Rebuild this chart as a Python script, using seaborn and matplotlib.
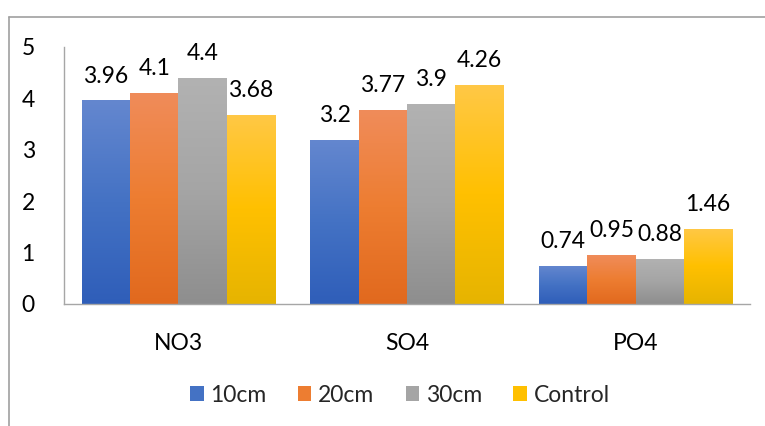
import numpy as np
import pandas as pd
import matplotlib
matplotlib.use("Agg")
import matplotlib.pyplot as plt
from matplotlib.colors import LinearSegmentedColormap
from matplotlib.lines import Line2D
from matplotlib.patches import Patch
import seaborn as sns

categories = ["NO3", "SO4", "PO4"]
series = ["10cm", "20cm", "30cm", "Control"]
v_10cm = [3.96, 3.2, 0.74]
v_20cm = [4.1, 3.77, 0.95]
v_30cm = [4.4, 3.9, 0.88]
v_control = [3.68, 4.26, 1.46]

# gradient stops per series: top, middle, bottom
gradients = {
    "10cm": ["#6487cf", "#4472c4", "#2f5eb9"],
    "20cm": ["#f08c5a", "#ed7d31", "#e1691e"],
    "30cm": ["#b2b2b2", "#a5a5a5", "#8e8e8e"],
    "Control": ["#ffc846", "#ffc000", "#e6b400"],
}
solid = {k: v[1] for k, v in gradients.items()}

df = pd.DataFrame({
    "nutrient": categories * 4,
    "depth": [s for s in series for _ in categories],
    "value": v_10cm + v_20cm + v_30cm + v_control,
})

sns.set_style("white")
plt.rcParams["font.family"] = ["Lato", "DejaVu Sans"]
FS = 16.5

fig = plt.figure(figsize=(7.65, 4.26), dpi=100)
ax = fig.add_axes([64 / 765, 1 - 304 / 426, (750 - 64) / 765, (304 - 47) / 426])

sns.barplot(data=df, x="nutrient", y="value", hue="depth", order=categories,
            hue_order=series, palette=solid, width=0.845, gap=0,
            saturation=1, ax=ax, legend=False, edgecolor="none", linewidth=0)

ax.set_xlim(-0.5, 2.5)
ax.set_ylim(0, 5)

# vertical gradient fill inside each bar
for container, name in zip(ax.containers, series):
    cmap = LinearSegmentedColormap.from_list(name, gradients[name][::-1])
    for bar, val in zip(container, container.datavalues):
        x0 = bar.get_x()
        w = bar.get_width()
        h = bar.get_height()
        grad = np.linspace(0, 1, 256).reshape(-1, 1)
        im = ax.imshow(grad, cmap=cmap, origin="lower", aspect="auto",
                       extent=[x0, x0 + w, 0, h], zorder=bar.get_zorder(),
                       interpolation="bilinear")
        im.set_clip_path(bar)
        bar.set_facecolor("none")
        ax.annotate(f"{val:g}", (x0 + w / 2, h), xytext=(0, 10),
                    textcoords="offset points", ha="center", va="bottom",
                    fontsize=FS, color="#000000")

ax.set_xlim(-0.5, 2.5)
ax.set_ylim(0, 5)
ax.set_xlabel("")
ax.set_ylabel("")
ax.set_yticks([0, 1, 2, 3, 4, 5])
ax.tick_params(axis="both", length=0, labelsize=FS, colors="#000000")
ax.tick_params(axis="y", pad=21)
ax.tick_params(axis="x", pad=21)

for side in ["top", "right"]:
    ax.spines[side].set_visible(False)
for side in ["left", "bottom"]:
    ax.spines[side].set_color("#a6a6a6")
    ax.spines[side].set_linewidth(1.0)

handles = [Patch(facecolor=solid[s], edgecolor="none") for s in series]
fig.legend(handles, series, loc="center", bbox_to_anchor=(400 / 765, 1 - 395 / 426),
           ncol=4, frameon=False, fontsize=FS, handlelength=0.6,
           handleheight=0.6, handletextpad=0.3, columnspacing=1.35)

# chart area border
fig.add_artist(Line2D([9 / 765, 9 / 765], [0, 1 - 17 / 426], transform=fig.transFigure,
                      color="#a0a0a0", linewidth=1.2))
fig.add_artist(Line2D([9 / 765, 1], [1 - 17 / 426, 1 - 17 / 426], transform=fig.transFigure,
                      color="#a0a0a0", linewidth=1.2))

fig.savefig("out.png", dpi=100)
